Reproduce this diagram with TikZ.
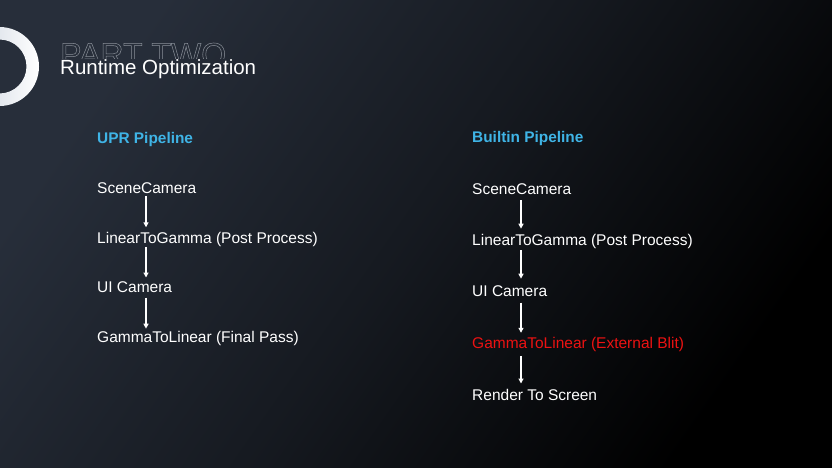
\documentclass[tikz,border=0pt]{standalone}
\usepackage{fontspec}
\setmainfont{Liberation Sans}
\usetikzlibrary{arrows.meta,calc}
\definecolor{bgA}{HTML}{272E3A}
\definecolor{bgB}{HTML}{000000}
\definecolor{ttl}{HTML}{3FB4E6}
\definecolor{hot}{HTML}{EC1212}
\definecolor{ringA}{HTML}{FFFFFF}
\definecolor{ringB}{HTML}{C9D2DD}
\definecolor{outl}{HTML}{8A9099}
\tikzset{
  item/.style={anchor=base west, inner sep=0pt, text=white, font=\fontsize{15.5}{17}\selectfont},
  head/.style={anchor=base west, inner sep=0pt, text=ttl, font=\fontsize{15.4}{17}\selectfont\bfseries},
  arr/.style={draw=white, line width=1.2pt, -{Triangle[length=5pt,width=5pt]}},
}
\begin{document}
\begin{tikzpicture}[x=1pt,y=-1pt]
\useasboundingbox (0,0) rectangle (832,468);
\shade[shading=axis, top color=bgA, bottom color=bgB, middle color=bgA!55!bgB, shading angle=55] (0,0) rectangle (832,468);
\clip (0,0) rectangle (832,468);
% ring
\shade[even odd rule, left color=ringB, right color=ringA] (-0.5,66.5) circle (39.5) (-0.5,66.5) circle (27);
% titles
\begin{scope}
\clip (0,0) rectangle (832,58.5);
\node[anchor=base west, inner sep=0pt, text=outl, font=\fontsize{32}{34}\selectfont] (part) at (60,65.3)
  {\special{pdf:code 1 Tr 0.5 w}PART TWO\special{pdf:code 0 Tr 0.4 w}};
\end{scope}
\node[anchor=base west, inner sep=0pt, text=white, font=\fontsize{20.5}{24}\selectfont] (title) at (60,74.5) {Runtime Optimization};
% left pipeline
\node[head] (uh) at (97,143.3) {UPR Pipeline};
\node[item] (u1) at (97,193.3) {SceneCamera};
\node[item] (u2) at (97,243.3) {LinearToGamma (Post Process)};
\node[item] (u3) at (97,292.5) {UI Camera};
\node[item] (u4) at (97,342.7) {GammaToLinear (Final Pass)};
\coordinate (ua) at (146,0);
\draw[arr] ($(u1.base west -| ua)+(0,2.5)$) -- ($(u2.base west -| ua)+(0,-16)$);
\draw[arr] ($(u2.base west -| ua)+(0,3.5)$) -- ($(u3.base west -| ua)+(0,-15)$);
\draw[arr] ($(u3.base west -| ua)+(0,5)$) -- ($(u4.base west -| ua)+(0,-14)$);
% right pipeline
\node[head] (bh) at (472,142.7) {Builtin Pipeline};
\node[item] (b1) at (472,194) {SceneCamera};
\node[item] (b2) at (472,245.7) {LinearToGamma (Post Process)};
\node[item] (b3) at (472,296.7) {UI Camera};
\node[item, text=hot] (b4) at (472,348.3) {GammaToLinear (External Blit)};
\node[item] (b5) at (472,400) {Render To Screen};
\coordinate (ba) at (521,0);
\draw[arr] ($(b1.base west -| ba)+(0,6)$) -- ($(b2.base west -| ba)+(0,-17)$);
\draw[arr] ($(b2.base west -| ba)+(0,4.5)$) -- ($(b3.base west -| ba)+(0,-18)$);
\draw[arr] ($(b3.base west -| ba)+(0,6)$) -- ($(b4.base west -| ba)+(0,-15.5)$);
\draw[arr] ($(b4.base west -| ba)+(0,7.5)$) -- ($(b5.base west -| ba)+(0,-16.5)$);
\end{tikzpicture}
\end{document}
